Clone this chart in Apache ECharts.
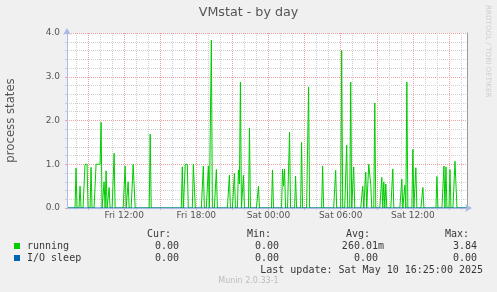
<!DOCTYPE html>
<html><head><meta charset="utf-8">
<script src="https://cdn.jsdelivr.net/npm/echarts@6/dist/echarts.min.js"></script>
<style>html,body{margin:0;padding:0;background:#f0f0f0}#c{width:497px;height:292px}</style>
</head><body><div id="c"></div>
<script>
const chartTitle = 'VMstat - by day';
const yAxisName = 'process states';
const tickLabels = ['Fri 12:00', 'Fri 18:00', 'Sat 00:00', 'Sat 06:00', 'Sat 12:00'];
const seriesNames = ['running', 'I/O sleep'];
const seriesColors = ['#00cc00', '#0066b3'];
const statHeaders = ['Cur:', 'Min:', 'Avg:', 'Max:'];
const runningStats = ['0.00', '0.00', '260.01m', '3.84'];
const ioSleepStats = ['0.00', '0.00', '0.00', '0.00'];
const lastUpdate = 'Last update: Sat May 10 16:25:00 2025';
const footer = 'Munin 2.0.33-1';
const sideText = 'RRDTOOL / TOBI OETIKER';
// 5-minute samples starting Fri 07:15
const startDay = ['Fri', 'Sat'];
const startMinute = 7 * 60 + 15;
const stepMinutes = 5;
const running = [
  0,0,0,0,0,0,0,0,0,0.91, 0,0,0,0.5,0,0,0,0,1,1,
  1,0,0,0,0.93,0,0,0,0,1, 1,1,1,1,1.96,0,0,0.6,0,0.85,
  0,0,0.47,0,0,0,0,1.25,0,0, 0,0,0,0,0,0,0,0,0.96,0,
  0,0.6,0,0,0,0,1,1,0,0, 0,0,0,0,0,0,0,0,0,0,
  0,0,0,1.69,0,0,0,0,0,0, 0,0,0,0,0,0,0,0,0,0,
  0,0,0,0,0,0,0,0,0,0, 0,0,0,0,0,0.94,0,0,1,1,
  1,0,0,0,0,0,1,1,0,0, 0,0,0,0,0,0,0.96,0,0,0,
  0,0.96,0,0,3.84,0,0,0,0,0.88, 0,0,0,0,0,0,0,0,0,0,
  0,0,0.75,0,0,0,0,0.79,0,0, 0,0.87,0.55,2.88,0,0,0.75,0,0,0,
  0,0,1.83,0,0,0,0,0,0,0, 0,0.5,0,0,0,0,0,0,0,0,
  0,0,0,0,0,0.87,0,0,0,0, 0,0,0,0,0,0.89,0.5,0.89,0,0,
  0,0,1.73,0,0,0,0,0,0.73,0, 0,0,0,0,1.5,0,0,0,0,0,
  0,2.77,0,0,0,0,0,0,0,0, 0,0,0,0,0,0.96,0,0,0,0,
  0,0,0,0,0,0,0,0,0.86,0, 0,0,0,0,3.6,0,0,0,0,1.44,
  0,0,0,2.88,0,0,0.94,0,0,0, 0,0,0,0,0,0.5,0,0,0.82,0,
  0,1,1,0.53,0,0,0,2.4,0,0, 0,0,0,0,0.7,0,0.6,0,0.55,0,
  0,0,0,0,0,0.89,0,0,0,0, 0,0,0,0,0.66,0,0,0.52,0,2.88,
  0,0,0,0,0,1.34,0,0,0.92,0, 0,0,0,0,0,0.47,0,0,0,0,
  0,0,0,0,0,0,0,0,0,0.72, 0,0,0,0,0,0,0.96,0,0.94,0,
  0,0,0.88,0,0,0,0,1.07,1.1,0, 0,0,0,0,0,0,0,0,0,0
];
const ioSleep = running.map(() => 0);

function pad(n) { return (n < 10 ? '0' : '') + n; }
const categories = running.map((_, i) => {
  const m = startMinute + i * stepMinutes;
  const mm = m % 1440;
  return startDay[Math.floor(m / 1440)] + ' ' + pad(Math.floor(mm / 60)) + ':' + pad(mm % 60);
});
function hourOf(v) { return parseInt(v.slice(4, 6), 10); }
function onHour(v) { return v.slice(7) === '00'; }
const isMajor = (i, v) => onHour(v) && hourOf(v) % 3 === 0;
const isMinor = (i, v) => onHour(v) && hourOf(v) % 3 !== 0;

const FONT = 'DejaVu Sans';
const MONO = 'DejaVu Sans Mono';
const RED = '#f2a0a0';
const GRAY = '#d0d0d0';
const AXIS = '#a9b8e6';
const TXT = '#555';
const LTXT = '#383838';

const baseX = { type: 'category', data: categories, boundaryGap: false, position: 'bottom',
  axisLine: { show: false, onZero: false }, axisLabel: { show: false }, axisTick: { show: false }, splitLine: { show: false } };

function monoText(x, y, text, align) {
  return { type: 'text', x: x, y: y, style: { text: text, align: align || 'right', verticalAlign: 'middle',
    font: '10px "' + MONO + '"', fill: LTXT } };
}
const headerRights = [171, 271, 370, 469];
const runningRights = [179, 279, 384, 477];
const ioRights = [179, 279, 378, 477];
const graphics = [];
statHeaders.forEach((t, k) => graphics.push(monoText(headerRights[k], 234, t)));
runningStats.forEach((t, k) => graphics.push(monoText(runningRights[k], 246, t)));
ioSleepStats.forEach((t, k) => graphics.push(monoText(ioRights[k], 258, t)));
graphics.push(monoText(483, 270, lastUpdate));
graphics.push({ type: 'text', x: 248.5, y: 281, style: { text: footer, align: 'center', verticalAlign: 'middle',
  font: '8px "' + FONT + '"', fill: '#bcbcbc' } });
graphics.push({ type: 'text', x: 488, y: 5, rotation: -Math.PI / 2, style: { text: sideText, align: 'left',
  verticalAlign: 'middle', font: '7.2px "' + FONT + '"', fill: '#cfcfcf' } });

const chart = echarts.init(document.getElementById('c'), null, { renderer: 'canvas' });
chart.setOption({
  animation: false,
  backgroundColor: '#f0f0f0',
  textStyle: { fontFamily: FONT },
  title: { text: chartTitle, left: 'center', top: 6, padding: 0,
    textStyle: { fontFamily: FONT, fontSize: 12.7, fontWeight: 'normal', color: TXT } },
  grid: { left: 67, top: 33, width: 400, height: 175, show: true, backgroundColor: '#ffffff', borderWidth: 0,
    containLabel: false, outerBoundsMode: 'none' },
  legend: { data: seriesNames, orient: 'vertical', left: 14, top: 240, padding: 0, itemGap: 0,
    icon: 'rect', itemWidth: 6, itemHeight: 6, selectedMode: false,
    textStyle: { fontFamily: MONO, fontSize: 10, color: LTXT, lineHeight: 12, padding: [0, 0, 0, 2] } },
  xAxis: [
    Object.assign({}, baseX, {
      axisTick: { show: true, length: 2, interval: isMinor, lineStyle: { color: GRAY } },
      splitLine: { show: true, interval: isMinor, lineStyle: { color: GRAY, type: [1, 1], width: 1 } } }),
    Object.assign({}, baseX, {
      axisTick: { show: true, length: 2, interval: isMajor, lineStyle: { color: RED } },
      splitLine: { show: true, interval: isMajor, lineStyle: { color: RED, type: [1, 1], width: 1 } },
      axisLabel: { show: true, interval: (i, v) => tickLabels.includes(v), margin: 3,
        fontFamily: FONT, fontSize: 9, color: TXT } }),
    Object.assign({}, baseX, { z: 5,
      axisLine: { show: true, onZero: false, lineStyle: { color: AXIS, width: 1 },
        symbol: ['none', 'arrow'], symbolSize: [6, 7], symbolOffset: [0, 5] } })
  ],
  yAxis: [
    { type: 'value', min: 0, max: 4, interval: 1, position: 'left',
      name: yAxisName, nameLocation: 'middle', nameGap: 50, nameRotate: 90,
      nameTextStyle: { fontFamily: FONT, fontSize: 11.7, color: TXT },
      axisLine: { show: false },
      axisTick: { show: true, length: 2, lineStyle: { color: RED } },
      minorTick: { show: true, splitNumber: 5, length: 2, lineStyle: { color: GRAY } },
      splitLine: { show: true, lineStyle: { color: RED, type: [1, 1], width: 1 } },
      minorSplitLine: { show: true, lineStyle: { color: GRAY, type: [1, 1], width: 1 } },
      axisLabel: { formatter: v => v.toFixed(1), margin: 7, fontFamily: FONT, fontSize: 9, color: TXT } },
    { type: 'value', min: 0, max: 4, position: 'left', z: 5,
      axisLine: { show: true, lineStyle: { color: AXIS, width: 1 }, symbol: ['none', 'arrow'], symbolSize: [6, 7], symbolOffset: [0, 5] },
      axisTick: { show: false }, axisLabel: { show: false }, splitLine: { show: false } },
    { type: 'value', min: 0, max: 4, position: 'right', z: 5,
      axisLine: { show: true, lineStyle: { color: '#9a9a9a', width: 1 } },
      axisTick: { show: false }, axisLabel: { show: false }, splitLine: { show: false } }
  ],
  series: [
    { name: seriesNames[0], type: 'line', xAxisIndex: 1, yAxisIndex: 0, data: running, showSymbol: false,
      symbol: 'none', color: seriesColors[0], lineStyle: { color: seriesColors[0], width: 1 }, itemStyle: { color: seriesColors[0] } },
    { name: seriesNames[1], type: 'line', xAxisIndex: 1, yAxisIndex: 0, data: ioSleep, showSymbol: false,
      symbol: 'none', color: seriesColors[1], lineStyle: { color: seriesColors[1], width: 1 }, itemStyle: { color: seriesColors[1] } }
  ],
  graphic: graphics
});
</script></body></html>
